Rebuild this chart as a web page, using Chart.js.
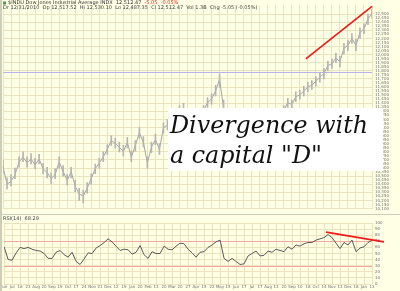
<!DOCTYPE html>
<html lang="en">
<head>
<meta charset="UTF-8">
<title>$INDU daily with RSI(14)</title>
<style>
  /* cream stockchart background */
  body {
    margin: 0;
    width: 400px;
    height: 291px;
    overflow: hidden;
    position: relative;
    background: #FFFFE6;
  }
  .panel { position: absolute; left: 0; width: 400px; }
  #price-wrap { top: 0; height: 214px; }
  #rsi-wrap { top: 214px; height: 77px; }
</style>
<script src="https://cdn.jsdelivr.net/npm/chart.js"></script>
</head>
<body>

<div class="panel" id="price-wrap"><canvas id="priceChart"></canvas></div>
<div class="panel" id="rsi-wrap"><canvas id="rsiChart"></canvas></div>

<script>
// Dow closes, roughly one sample every couple of sessions
const closes = [
  10616, 10400, 10436, 10520, 10676, 10736, 10664, 10712, 10640, 10712,
  10592, 10544, 10472, 10520, 10676, 10556, 10448, 10556, 10376, 10280,
  10256, 10352, 10472, 10592, 10664, 10736, 10832, 10940, 10904, 10856,
  10808, 10916, 10736, 10880, 11036, 10916, 10664, 10856, 10952, 10832,
  11096, 11132, 11120, 11216, 11312, 11336, 11240, 11192, 11120, 11240,
  11312, 11408, 11456, 11552, 11696, 11336, 11156, 11192, 11036, 10856,
  10796, 10976, 11072, 11156, 11036, 11072, 11192, 11168, 11240, 11264,
  11312, 11408, 11384, 11480, 11504, 11552, 11600, 11624, 11672, 11720,
  11768, 11864, 11888, 11960, 11912, 12080, 12116, 12200, 12116, 12272,
  12320, 12440, 12512
];
const highs = [
  10700, 10480, 10520, 10600, 10740, 10800, 10740, 10780, 10720, 10770,
  10660, 10610, 10540, 10590, 10740, 10630, 10520, 10610, 10450, 10350,
  10330, 10420, 10530, 10650, 10720, 10800, 10890, 11000, 10970, 10920,
  10880, 10980, 10810, 10940, 11100, 10990, 10740, 10920, 11020, 10900,
  11160, 11200, 11180, 11280, 11370, 11400, 11310, 11260, 11190, 11300,
  11370, 11470, 11520, 11620, 11760, 11440, 11230, 11260, 11110, 10930,
  10870, 11040, 11130, 11220, 11100, 11140, 11250, 11230, 11300, 11320,
  11370, 11460, 11440, 11540, 11560, 11610, 11660, 11680, 11730, 11780,
  11830, 11920, 11950, 12020, 11980, 12140, 12180, 12260, 12190, 12330,
  12380, 12500, 12560
];
const lows = [
  10540, 10340, 10380, 10470, 10610, 10680, 10610, 10650, 10590, 10650,
  10530, 10480, 10410, 10470, 10600, 10500, 10390, 10480, 10310, 10200,
  10170, 10290, 10400, 10530, 10600, 10680, 10770, 10880, 10850, 10800,
  10750, 10850, 10680, 10810, 10970, 10860, 10600, 10790, 10890, 10770,
  11030, 11070, 11060, 11150, 11250, 11280, 11180, 11130, 11060, 11170,
  11250, 11350, 11390, 11490, 11600, 11270, 11090, 11130, 10970, 10790,
  10730, 10910, 11010, 11090, 10970, 11010, 11130, 11110, 11180, 11200,
  11260, 11350, 11320, 11420, 11450, 11490, 11540, 11570, 11610, 11660,
  11700, 11800, 11830, 11900, 11850, 12010, 12050, 12140, 12050, 12200,
  12260, 12370, 12450
];

// RSI(14) at the same samples
const rsi = [
  61, 40, 39, 51, 60, 58, 60, 57, 55, 54,
  50, 42, 42, 52, 55, 48, 44, 52, 37, 32,
  41, 51, 50, 59, 63, 68, 74, 69, 62, 55,
  57, 56, 49, 52, 63, 48, 42, 53, 50, 50,
  62, 57, 56, 62, 67, 66, 57, 51, 44, 52,
  53, 60, 64, 69, 72, 42, 37, 42, 37, 32,
  33, 46, 50, 54, 46, 47, 54, 52, 57, 55,
  53, 61, 57, 64, 62, 66, 68, 68, 72, 74,
  76, 81, 76, 67, 58, 68, 64, 72, 53, 59,
  61, 68, 72
];

// one label per vertical grid line (every other sample)
const xTickLabels = [
  "Jun", "Jul", "16", "23", "Aug", "20", "Sep", "19", "Oct", "17",
  "24", "Nov", "21", "Dec", "12", "19", "Jan", "20", "Feb", "13",
  "20", "Mar", "20", "27", "Apr", "15", "22", "May", "15", "Jun",
  "17", "Jul", "17", "Aug", "13", "20", "Sep", "10", "18", "Oct",
  "14", "Nov", "13", "Dec", "18", "Jan", "13"
];

const priceMin = 10100;
const priceMax = 12608;
const priceTopTick = 12500;
const resistanceLevel = 11780;

// hand drawn red lines: [sample index, value]
const priceTrend = [[75.5, 11948], [92, 12596]];
const rsiTrend = [[80.5, 85], [95, 69]];

const headerTitle = "$INDU Dow Jones Industrial Average INDX  12,512.47";
const headerChange = "-5.05  -0.05%";
const headerLine2 = "Dr 12/31/2010  Op 12,517.52  Hi 12,530.10  Lo 12,487.35  Cl 12,512.47  Vol 1.3B  Chg -5.05 (-0.05%)";
const rsiHeader = "RSI(14)  68.29";
const noteLines = ["Divergence with", "a capital \"D\""];

const days = closes.map((_, i) => i);
const ranges = closes.map((_, i) => [lows[i], highs[i]]);
const gridColor = "#EAE4BE";
const labelColor = "#707070";

// grid on every other sample only
function xGrid(ctx) {
    return ctx.index % 2 === 0 ? gridColor : "rgba(0,0,0,0)";
}

function trendPlugin(id, points) {
    return {
        id: id,
        afterDatasetsDraw(chart) {
            const { ctx, scales: { x, y } } = chart;
            ctx.save();
            ctx.strokeStyle = "#EE1B1B";
            ctx.lineWidth = 1.7;
            ctx.beginPath();
            ctx.moveTo(x.getPixelForValue(points[0][0]), y.getPixelForValue(points[0][1]));
            ctx.lineTo(x.getPixelForValue(points[1][0]), y.getPixelForValue(points[1][1]));
            ctx.stroke();
            ctx.restore();
        }
    };
}

// purple level line, header text and the white note box
const priceDecor = {
    id: "priceDecor",
    beforeDatasetsDraw(chart) {
        const { ctx, chartArea, scales: { y } } = chart;
        const py = Math.round(y.getPixelForValue(resistanceLevel)) + 0.5;
        ctx.save();
        ctx.strokeStyle = "#B9B2E6";
        ctx.lineWidth = 1;
        ctx.beginPath();
        ctx.moveTo(chartArea.left, py);
        ctx.lineTo(chartArea.right, py);
        ctx.stroke();
        ctx.restore();
    },
    afterDraw(chart) {
        const ctx = chart.ctx;
        ctx.save();
        // left frame
        ctx.fillStyle = "#CFCDB8";
        ctx.fillRect(0, 0, 2, chart.height);

        // header
        ctx.font = "5px 'DejaVu Sans'";
        ctx.textBaseline = "middle";
        ctx.fillStyle = "#4C9A4C";
        ctx.fillRect(3, 1.5, 3, 3);
        ctx.fillStyle = "#333";
        ctx.fillText(headerTitle, 8, 3.2);
        const w = ctx.measureText(headerTitle + "  ").width;
        ctx.fillStyle = "#E02020";
        ctx.fillText(headerChange, 8 + w, 3.2);
        ctx.fillStyle = "#444";
        ctx.fillText(headerLine2, 3, 8);

        // note box
        ctx.fillStyle = "#FFFFFF";
        ctx.fillRect(168, 108, 215, 63);
        let size = 28;
        ctx.font = "italic " + size + "px 'DejaVu Serif'";
        size = size * 198 / ctx.measureText(noteLines[0]).width;
        ctx.font = "italic " + size.toFixed(1) + "px 'DejaVu Serif'";
        ctx.fillStyle = "#111";
        ctx.textBaseline = "alphabetic";
        ctx.fillText(noteLines[0], 170, 133);
        ctx.fillText(noteLines[1], 170, 163);
        ctx.restore();
    }
};

const rsiDecor = {
    id: "rsiDecor",
    beforeDatasetsDraw(chart) {
        const { ctx, chartArea, scales: { y } } = chart;
        ctx.save();
        ctx.strokeStyle = "#F0A9A2";
        ctx.lineWidth = 1;
        [70, 30].forEach(level => {
            const py = Math.round(y.getPixelForValue(level)) + 0.5;
            ctx.beginPath();
            ctx.moveTo(chartArea.left, py);
            ctx.lineTo(chartArea.right, py);
            ctx.stroke();
        });
        ctx.restore();
    },
    afterDraw(chart) {
        const ctx = chart.ctx;
        ctx.save();
        ctx.fillStyle = "#CFCDB8";
        ctx.fillRect(0, 0, 2, chart.height);
        ctx.fillRect(0, 0, chart.width, 1);
        ctx.font = "5px 'DejaVu Sans'";
        ctx.textBaseline = "middle";
        ctx.fillStyle = "#444";
        ctx.fillText(rsiHeader, 3, 5);
        ctx.restore();
    }
};

new Chart(document.getElementById("priceChart"), {
    data: {
        labels: days,
        datasets: [{
            type: "bar",
            data: ranges,
            backgroundColor: "#B4B4B4",
            barThickness: 1,
            borderWidth: 0
        }, {
            type: "line",
            data: closes,
            borderColor: "#A4A4A4",
            borderWidth: 1,
            pointRadius: 0,
            tension: 0
        }]
    },
    options: {
        responsive: true,
        maintainAspectRatio: false,
        animation: false,
        layout: { padding: { top: 4, left: 3, bottom: 1, right: 0 } },
        plugins: { legend: { display: false }, tooltip: { enabled: false } },
        scales: {
            x: {
                offset: false,
                ticks: { display: false },
                grid: { color: xGrid, drawTicks: false, offset: false },
                border: { display: false }
            },
            y: {
                position: "right",
                min: priceMin,
                max: priceMax,
                ticks: {
                    stepSize: 50,
                    autoSkip: false,
                    font: { size: 4, family: "DejaVu Sans" },
                    color: labelColor,
                    padding: 3,
                    callback: v => v.toLocaleString("en-US")
                },
                grid: {
                    color: ctx => ctx.tick && ctx.tick.value % 100 === 0 ? gridColor : "rgba(0,0,0,0)",
                    drawTicks: false
                },
                border: { display: false },
                afterBuildTicks: s => { s.ticks = s.ticks.filter(t => t.value <= priceTopTick); },
                afterFit: s => { s.width = 28; }
            }
        }
    },
    plugins: [priceDecor, trendPlugin("priceTrend", priceTrend)]
});

new Chart(document.getElementById("rsiChart"), {
    type: "line",
    data: {
        labels: days,
        datasets: [{
            data: rsi,
            borderColor: "#5A5A5A",
            borderWidth: 1,
            pointRadius: 0,
            tension: 0
        }]
    },
    options: {
        responsive: true,
        maintainAspectRatio: false,
        animation: false,
        layout: { padding: { top: 9, left: 3, bottom: 0, right: 0 } },
        plugins: { legend: { display: false }, tooltip: { enabled: false } },
        scales: {
            x: {
                offset: false,
                ticks: {
                    autoSkip: false,
                    maxRotation: 0,
                    font: { size: 4, family: "DejaVu Sans" },
                    color: labelColor,
                    padding: 1,
                    callback: (v, i) => i % 2 === 0 ? xTickLabels[i / 2] : ""
                },
                grid: { color: xGrid, drawTicks: false },
                border: { display: false },
                afterFit: s => { s.height = 7; }
            },
            y: {
                position: "right",
                min: 0,
                max: 100,
                ticks: {
                    stepSize: 10,
                    autoSkip: false,
                    font: { size: 4, family: "DejaVu Sans" },
                    color: labelColor,
                    padding: 3
                },
                grid: { color: gridColor, drawTicks: false },
                border: { display: false },
                afterFit: s => { s.width = 28; }
            }
        }
    },
    plugins: [rsiDecor, trendPlugin("rsiTrend", rsiTrend)]
});
</script>

</body>
</html>
